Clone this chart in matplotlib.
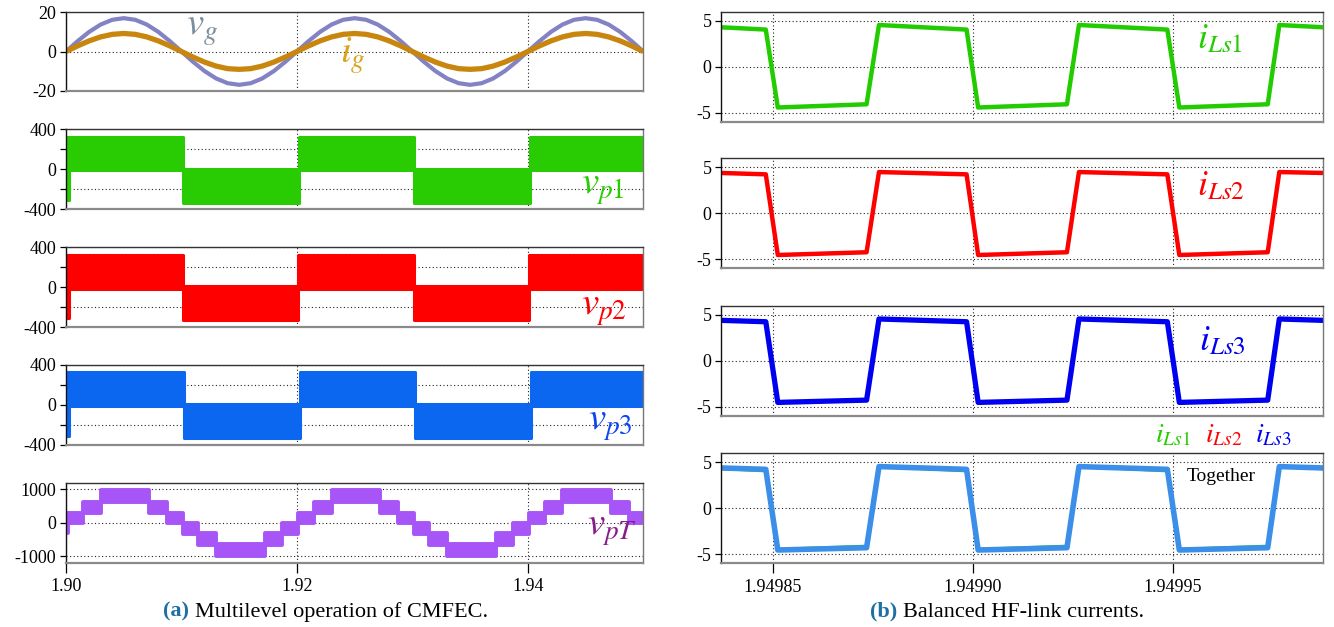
"""Multilevel CMFEC waveforms (a) and balanced HF-link currents (b)."""
import matplotlib
matplotlib.use('Agg')
import matplotlib.pyplot as plt
import matplotlib.ticker as ticker

# ======== Data (a): grid side, 1 ms samples from t = 1.90 s ========
t_grid_ms = list(range(51))
vg = [0, 5.25, 9.99, 13.75, 16.17, 17.0, 16.17, 13.75, 9.99, 5.25,
      0, -5.25, -9.99, -13.75, -16.17, -17.0, -16.17, -13.75, -9.99, -5.25,
      0, 5.25, 9.99, 13.75, 16.17, 17.0, 16.17, 13.75, 9.99, 5.25,
      0, -5.25, -9.99, -13.75, -16.17, -17.0, -16.17, -13.75, -9.99, -5.25,
      0, 5.25, 9.99, 13.75, 16.17, 17.0, 16.17, 13.75, 9.99, 5.25, 0]
ig = [0, 2.84, 5.41, 7.44, 8.75, 9.2, 8.75, 7.44, 5.41, 2.84,
      0, -2.84, -5.41, -7.44, -8.75, -9.1, -8.75, -7.44, -5.41, -2.84,
      0, 2.84, 5.41, 7.44, 8.75, 9.2, 8.75, 7.44, 5.41, 2.84,
      0, -2.84, -5.41, -7.44, -8.75, -9.1, -8.75, -7.44, -5.41, -2.84,
      0, 2.84, 5.41, 7.44, 8.75, 9.2, 8.75, 7.44, 5.41, 2.84, 0]

# PWM envelopes of the cell voltages: segment start/end (ms), band low/high (V)
vp1_t0 = [0.0, 0.0, 10.15, 20.15, 30.15, 40.15]
vp1_t1 = [0.25, 10.15, 20.15, 30.15, 40.15, 50.0]
vp1_lo = [-310, -2, -332, -2, -332, -2]
vp1_hi = [328, 328, 5, 328, 5, 328]

vp2_t0 = [0.0, 0.0, 10.1, 20.1, 30.1, 40.1]
vp2_t1 = [0.25, 10.1, 20.1, 30.1, 40.1, 50.0]
vp2_lo = [-310, -12, -330, -12, -330, -12]
vp2_hi = [325, 325, 12, 325, 12, 325]

vp3_t0 = [0.0, 0.0, 10.2, 20.25, 30.2, 40.25]
vp3_t1 = [0.25, 10.2, 20.25, 30.2, 40.25, 50.0]
vp3_lo = [-310, -8, -335, -8, -335, -8]
vp3_hi = [328, 328, 8, 328, 8, 328]

# total primary voltage: 7-level staircase, switch instants (ms) and level index
vpt_edges_ms = [0, 1.45, 3.0, 7.2, 8.75, 10.1, 11.45, 13.0, 17.2, 18.75, 20.1,
                21.45, 23.0, 27.2, 28.75, 30.1, 31.45, 33.0, 37.2, 38.75, 40.1,
                41.45, 43.0, 47.2, 48.75, 50.0]
vpt_level = [1, 2, 3, 2, 1, -1, -2, -3, -2, -1,
             1, 2, 3, 2, 1, -1, -2, -3, -2, -1,
             1, 2, 3, 2, 1]
vpt_band = {1: (-10, 305), 2: (305, 625), 3: (610, 975),
            -1: (-330, 0), -2: (-675, -310), -3: (-990, -630)}
vpt_spike = (0.0, 0.2, -320, 305)

# ======== Data (b): HF-link currents, corner points ========
t_hf = [1.9498372, 1.9498483, 1.9498513, 1.9498735, 1.9498766, 1.9498985, 1.9499014,
        1.9499236, 1.9499266, 1.9499487, 1.9499517, 1.9499738, 1.9499767, 1.9499877]
i_ls1 = [4.3, 4.05, -4.45, -4.1, 4.55, 4.05, -4.45, -4.1, 4.55, 4.05, -4.45, -4.1, 4.55, 4.3]
i_ls2 = [4.4, 4.25, -4.55, -4.25, 4.5, 4.25, -4.55, -4.25, 4.5, 4.25, -4.55, -4.25, 4.5, 4.4]
i_ls3 = [4.4, 4.25, -4.55, -4.3, 4.55, 4.25, -4.55, -4.3, 4.55, 4.25, -4.55, -4.3, 4.55, 4.4]

# ======== Style ========
plt.rcParams.update({
    'font.family': 'serif',
    'font.serif': ['Liberation Serif', 'DejaVu Serif'],
    'mathtext.fontset': 'stix',
    'axes.unicode_minus': False,
    'font.size': 13,
})

W, H = 1334, 627
fig = plt.figure(figsize=(W / 100, H / 100), dpi=100)


def px_axes(x0, y0, x1, y1):
    return fig.add_axes([x0 / W, 1 - y1 / H, (x1 - x0) / W, (y1 - y0) / H])


def style(ax, xticks, yticks, ylabels, show_x):
    ax.set_axisbelow(True)
    ax.set_xticks(xticks)
    ax.set_yticks(yticks)
    ax.yaxis.set_major_formatter(ticker.FixedFormatter(ylabels))
    ax.grid(True, color='#222222', lw=0.8, ls=(0, (1, 2.2)))
    ax.tick_params(axis='y', length=4, width=0.9, pad=3, labelsize=13)
    if show_x:
        ax.tick_params(axis='x', length=7, width=0.9, pad=4, labelsize=13)
    else:
        ax.tick_params(axis='x', length=0, labelbottom=False)
    ax.spines['left'].set_color('#111111')
    ax.spines['top'].set_color('#333333')
    ax.spines['right'].set_color('#777777')
    ax.spines['bottom'].set_color('#8a8a8a')
    ax.spines['bottom'].set_linewidth(1.6)
    for s in ('left', 'top', 'right'):
        ax.spines[s].set_linewidth(1.0)


def t_s(ms):
    return 1.90 + ms * 1e-3


def band(ax, t0, t1, lo, hi, c, lw):
    poly = ax.fill_between([t_s(t0), t_s(t1)], lo, hi, facecolor=c, edgecolor=c, lw=lw)
    poly.set_joinstyle('round')


left_rows = [(12.3, 90.7), (129.3, 209.3), (247.3, 327.3), (364.7, 445.0), (482.7, 562.7)]
right_rows = [(11.7, 121.7), (158.3, 268.3), (305.7, 415.7), (453.3, 563.3)]
lx0, lx1 = 66, 643.3
rx0, rx1 = 721.4, 1323.3
left_xt = [1.90, 1.92, 1.94]
right_xt = [1.94985, 1.94990, 1.94995]

# ======== (a) left column ========
ax = px_axes(lx0, left_rows[0][0], lx1, left_rows[0][1])
tg = [t_s(m) for m in t_grid_ms]
ax.plot(tg, vg, color='#8282C4', lw=3.0, solid_capstyle='butt')
ax.plot(tg, ig, color='#C8860F', lw=3.8, solid_capstyle='butt')
ax.set_xlim(1.90, 1.95)
ax.set_ylim(-20, 20)
style(ax, left_xt, [-20, 0, 20], ['-20', '0', '20'], False)

vp_sets = [(vp1_t0, vp1_t1, vp1_lo, vp1_hi, '#29CC02'),
           (vp2_t0, vp2_t1, vp2_lo, vp2_hi, '#FF0000'),
           (vp3_t0, vp3_t1, vp3_lo, vp3_hi, '#0B66F0')]
for k, (t0s, t1s, los, his, c) in enumerate(vp_sets):
    ax = px_axes(lx0, left_rows[k + 1][0], lx1, left_rows[k + 1][1])
    for t0, t1, lo, hi in zip(t0s, t1s, los, his):
        band(ax, t0, t1, lo, hi, c, 2.2)
    ax.set_xlim(1.90, 1.95)
    ax.set_ylim(-400, 400)
    style(ax, left_xt, [-400, -200, 0, 200, 400], ['-400', '', '0', '', '400'], False)

ax_vpt = px_axes(lx0, left_rows[4][0], lx1, left_rows[4][1])
band(ax_vpt, vpt_spike[0], vpt_spike[1], vpt_spike[2], vpt_spike[3], '#A755F7', 2.8)
for j, lev in enumerate(vpt_level):
    lo, hi = vpt_band[lev]
    band(ax_vpt, vpt_edges_ms[j], vpt_edges_ms[j + 1], lo, hi, '#A755F7', 2.8)
ax_vpt.set_xlim(1.90, 1.95)
ax_vpt.set_ylim(-1200, 1200)
style(ax_vpt, left_xt, [-1000, 0, 1000], ['-1000', '0', '1000'], True)
ax_vpt.xaxis.set_major_formatter(ticker.FormatStrFormatter('%.2f'))

# ======== (b) right column ========
hf_sets = [(i_ls1, '#22CC00', 3.2), (i_ls2, '#FF0000', 3.2), (i_ls3, '#0000F0', 3.8)]
for k, (vals, c, lw) in enumerate(hf_sets):
    ax = px_axes(rx0, right_rows[k][0], rx1, right_rows[k][1])
    ax.plot(t_hf, vals, color=c, lw=lw)
    ax.set_xlim(t_hf[0], t_hf[-1])
    ax.set_ylim(-6, 6)
    style(ax, right_xt, [-5, 0, 5], ['-5', '0', '5'], False)

ax_tog = px_axes(rx0, right_rows[3][0], rx1, right_rows[3][1])
ax_tog.plot(t_hf, i_ls1, color='#22CC00', lw=1.8)
ax_tog.plot(t_hf, i_ls2, color='#FF0000', lw=1.8)
ax_tog.plot(t_hf, i_ls3, color='#3B8FE9', lw=4.0)
ax_tog.set_xlim(t_hf[0], t_hf[-1])
ax_tog.set_ylim(-6, 6)
style(ax_tog, right_xt, [-5, 0, 5], ['-5', '0', '5'], True)
ax_tog.xaxis.set_major_formatter(ticker.FormatStrFormatter('%.5f'))


# ======== Labels ========
def ftext(x, y, s, **kw):
    return fig.text(x / W, 1 - y / H, s, va='baseline', ha='left', **kw)


ftext(186, 35, r'$v_g$', fontsize=28, color='#7C8E9C')
ftext(340, 63, r'$i_g$', fontsize=28, color='#DBA420')
ftext(581, 194, r'$v_{p1}$', fontsize=28, color='#29CC02')
ftext(581, 315, r'$v_{p2}$', fontsize=28, color='#FF0000')
ftext(588, 430, r'$v_{p3}$', fontsize=28, color='#0B44F0')
ftext(587, 535, r'$v_{pT}$', fontsize=28, color='#8A1C8A')

ftext(1197, 48, r'$i_{Ls1}$', fontsize=26, color='#22CC00')
ftext(1197, 195, r'$i_{Ls2}$', fontsize=26, color='#FF0000')
ftext(1199, 350, r'$i_{Ls3}$', fontsize=26, color='#0000F0')
ftext(1155, 442, r'$i_{Ls1}$', fontsize=20, color='#22CC00')
ftext(1205, 442, r'$i_{Ls2}$', fontsize=20, color='#FF0000')
ftext(1255, 442, r'$i_{Ls3}$', fontsize=20, color='#0000F0')
ftext(1187, 481, 'Together', fontsize=14, color='black')

# ======== Captions ========
for x0, tag, rest in [(163.3, '(a)', 'Multilevel operation of CMFEC.'),
                      (870, '(b)', 'Balanced HF-link currents.')]:
    t = ftext(x0, 616.7, tag, fontsize=16, fontweight='bold', color='#1F6FA5')
    ax_vpt.annotate(rest, xy=(1, 0), xycoords=t, xytext=(4, 0), textcoords='offset points',
                    va='bottom', ha='left', fontsize=16, annotation_clip=False)

fig.savefig('out.png', dpi=100)
